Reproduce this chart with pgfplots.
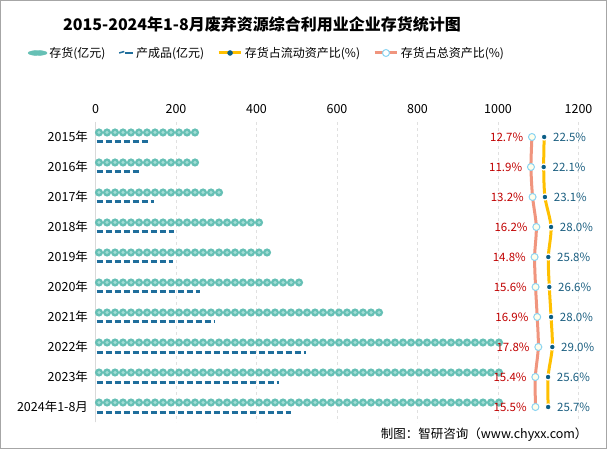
\documentclass[border=0pt]{standalone}
\usepackage{pgfplots}
\pgfplotsset{compat=1.18}
\usepackage{fontspec}
\setmainfont{Noto Sans CJK SC}
\definecolor{tealc}{HTML}{66C0B5}
\definecolor{tealin}{HTML}{A3DDD5}
\definecolor{prodc}{HTML}{1F6E9C}
\definecolor{salmon}{HTML}{F0957E}
\definecolor{gold}{HTML}{FFC000}
\definecolor{dblue}{HTML}{0B5E87}
\definecolor{lblue}{HTML}{8AD4F2}
\definecolor{redt}{HTML}{C00000}
\definecolor{bluet}{HTML}{1A5E80}
\begin{document}
\begin{tikzpicture}
\draw[black!35, line width=1pt] (0.5pt,0.5pt) rectangle (606.5pt,448.5pt);
\node[font=\fontsize{16}{18}\selectfont\bfseries] at (262pt,425pt) {2015-2024年1-8月废弃资源综合利用业企业存货统计图};
\node[anchor=east, font=\fontsize{12.5}{14}\selectfont] at (591pt,14pt) {制图：智研咨询（www.chyxx.com）};
\begin{axis}[at={(95.5pt,27pt)}, anchor=south west, scale only axis, width=483pt, height=300pt,
 xmin=0, xmax=1200, ymin=-0.5, ymax=9.5, y dir=reverse,
 axis x line*=top, axis y line*=left,
 x axis line style={draw=none}, y axis line style={draw=black!15, line width=1pt, -},
 xtick={0,200,...,1200}, major tick length=0pt,
 xmajorgrids, grid style={dashed, black!12},
 ytick={0,...,9},
 yticklabels={2015年,2016年,2017年,2018年,2019年,2020年,2021年,2022年,2023年,2024年1-8月},
 tick label style={font=\fontsize{12.5}{14}\selectfont},
 /pgf/number format/assume math mode=true,
 /pgf/number format/1000 sep={},
 xticklabel style={yshift=5pt},
 yticklabel style={xshift=-4pt},
 clip=false,
 legend style={at={(0.355,1.23)}, anchor=center, draw=none, legend columns=4,
   font=\fontsize{12}{14}\selectfont,
   /tikz/every even column/.append style={column sep=11pt}},
 legend cell align=left,
]
\addlegendimage{legend image code/.code={\fill[tealc] (0.3cm,0pt) ellipse (9.5pt and 2.5pt);}}
\addlegendentry{存货(亿元)}
\addlegendimage{legend image code/.code={\draw[prodc,line width=1.5pt] (0.12cm,0pt) -- (0.3cm,1.5pt); \draw[prodc,line width=2.5pt] (0.32cm,0pt)--(0.6cm,0pt);}}
\addlegendentry{产成品(亿元)}
\addlegendimage{legend image code/.code={\draw[gold,line width=3pt] (0pt,0pt)--(0.8cm,0pt); \fill[dblue] (0.4cm,0pt) circle (2.5pt);}}
\addlegendentry{存货占流动资产比(\%)}
\addlegendimage{legend image code/.code={\draw[salmon,line width=3pt] (0pt,0pt)--(0.8cm,0pt); \draw[lblue,fill=white,line width=1pt] (0.4cm,0pt) circle (3.5pt);}}
\addlegendentry{存货占总资产比(\%)}
% inventory
\addplot[forget plot, xcomb, draw=tealc, line width=8.2pt, line cap=round, dash pattern=on 0pt off 8pt, xshift=3.5pt, yshift=4.5pt, mark=none]
 coordinates {(239,0) (239,1) (308,2) (398,3) (424,4) (516,5) (709,6) (1007,7) (995,8) (1005,9)};
\addplot[forget plot, xcomb, draw=tealin, line width=3.5pt, line cap=round, dash pattern=on 0pt off 8pt, xshift=3.5pt, yshift=4.5pt, mark=none]
 coordinates {(239,0) (239,1) (308,2) (398,3) (424,4) (516,5) (709,6) (1007,7) (995,8) (1005,9)};
% finished products
\addplot[forget plot, xcomb, draw=prodc, line width=3pt, dash pattern=on 6.5pt off 2.5pt, xshift=1pt, yshift=-5pt, mark=none]
 coordinates {(127,0) (111,1) (142,2) (192,3) (189,4) (258,5) (295,6) (521,7) (454,8) (483,9)};
\end{axis}
\begin{axis}[at={(95.5pt,27pt)}, anchor=south west, scale only axis, width=483pt, height=300pt,
 xmin=-337, xmax=50, ymin=-0.5, ymax=9.5, y dir=reverse, hide axis, clip=false,
 /pgf/number format/assume math mode=true]
\addplot[salmon, line width=3pt, smooth, mark=*, mark size=3.5pt,
  mark options={draw=lblue, fill=white!92!yellow, line width=1pt},
  point meta=x,
  nodes near coords={\pgfmathprintnumber[fixed,fixed zerofill,precision=1]{\pgfplotspointmeta}\%},
  every node near coord/.style={anchor=east, xshift=-5pt, text=redt, font=\fontsize{11.5}{13}\selectfont}]
 coordinates {(12.7,0) (11.9,1) (13.2,2) (16.2,3) (14.8,4) (15.6,5) (16.9,6) (17.8,7) (15.4,8) (15.5,9)};
\addplot[gold, line width=3pt, smooth, mark=*, mark size=3pt,
  mark options={draw=white, fill=dblue, line width=1.2pt},
  point meta=x,
  nodes near coords={\pgfmathprintnumber[fixed,fixed zerofill,precision=1]{\pgfplotspointmeta}\%},
  every node near coord/.style={anchor=west, xshift=5pt, text=bluet, font=\fontsize{11.5}{13}\selectfont}]
 coordinates {(22.5,0) (22.1,1) (23.1,2) (28.0,3) (25.8,4) (26.6,5) (28.0,6) (29.0,7) (25.6,8) (25.7,9)};
\end{axis}
\end{tikzpicture}
\end{document}
